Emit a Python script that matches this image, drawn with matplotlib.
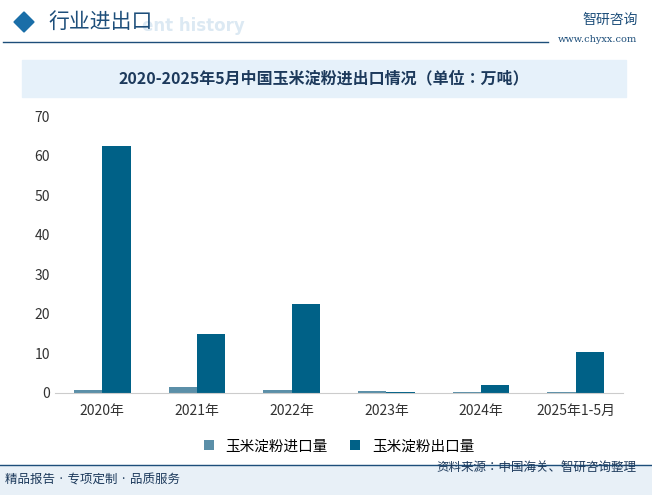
import matplotlib
matplotlib.use("Agg")
import matplotlib.pyplot as plt
from matplotlib import font_manager
from matplotlib.patches import Rectangle, Polygon
import numpy as np

for f in font_manager.findSystemFonts():
    if "CJK" in f:
        try:
            font_manager.fontManager.addfont(f)
        except Exception:
            pass
names = sorted({f.name for f in font_manager.fontManager.ttflist if "CJK" in f.name})
sans = next((n for n in names if "Sans CJK SC" in n), next((n for n in names if "Sans" in n), "Noto Sans CJK SC"))
serif = next((n for n in names if "Serif CJK SC" in n), sans)
plt.rcParams["font.family"] = [sans, "DejaVu Sans"]

categories = ["2020年", "2021年", "2022年", "2023年", "2024年", "2025年1-5月"]
import_vals = [0.8, 1.5, 0.8, 0.5, 0.2, 0.2]
export_vals = [62.4, 14.8, 22.4, 0.2, 2.0, 10.4]
yticks = [0, 10, 20, 30, 40, 50, 60, 70]

W, H = 652, 495
fig = plt.figure(figsize=(W/100, H/100), dpi=100)

def fx(x): return x / W
def fy(y): return 1 - y / H

# header
fig.patches.append(Polygon([[fx(14), fy(22)], [fx(24), fy(12)], [fx(34), fy(22)], [fx(24), fy(32)]],
                           closed=True, color="#1a6ea8", transform=fig.transFigure))
fig.text(fx(142), fy(26), "ent history", fontsize=12, color="#dce9f3", va="center", weight="bold",
         family="DejaVu Sans", zorder=0)
fig.text(fx(48), fy(22), "行业进出口", fontsize=15, color="#1d4e7a", va="center")
fig.add_artist(plt.Line2D([fx(3), fx(548)], [fy(42), fy(42)], color="#1d4e7a", lw=1, transform=fig.transFigure))
fig.text(fx(582), fy(20), "智研咨询", fontsize=10, color="#1d4e7a", va="center")
fig.text(fx(558), fy(40), "www.chyxx.com", fontsize=7, color="#1d4e7a", va="center", family="DejaVu Serif")

fig.patches.append(Rectangle((fx(22), fy(97)), fx(604), 37/H, color="#e6f1fa", transform=fig.transFigure))
fig.text(fx(324), fy(78), "2020-2025年5月中国玉米淀粉进出口情况（单位：万吨）", fontsize=11.5,
         color="#1d3a5c", ha="center", va="center", weight="bold", family=serif)

ax = fig.add_axes([fx(55), fy(393), fx(568), (393 - 116) / H])
x = np.arange(len(categories))
w = 0.3
ax.bar(x - w/2, import_vals, w, color="#5b8fa8", label="玉米淀粉进口量")
ax.bar(x + w/2, export_vals, w, color="#006187", label="玉米淀粉出口量")
ax.set_xlim(-0.5, len(categories) - 0.5)
ax.set_ylim(0, 70)
ax.set_yticks(yticks)
ax.set_xticks(x)
ax.set_xticklabels(categories)
ax.tick_params(length=0, labelsize=10, colors="#333333")
ax.tick_params(axis="x", pad=8)
for s in ["top", "right", "left"]:
    ax.spines[s].set_visible(False)
ax.spines["bottom"].set_color("#cccccc")
ax.legend(loc="upper center", bbox_to_anchor=(0.5, -0.12), ncol=2, frameon=False,
          fontsize=10.5, handlelength=0.7, handleheight=0.7, columnspacing=1.5)

# footer
fig.patches.append(Rectangle((0, 0), 1, 30/H, color="#e8f0f7", transform=fig.transFigure))
fig.add_artist(plt.Line2D([0, 1], [fy(465), fy(465)], color="#1d4e7a", lw=1, transform=fig.transFigure))
fig.text(fx(5), fy(480), "精品报告 · 专项定制 · 品质服务", fontsize=9, color="#1d3a5c", va="center")
fig.text(fx(436), fy(467), "资料来源：中国海关、智研咨询整理", fontsize=9, color="#1d3a5c", va="center")

fig.savefig("out.png", dpi=100)
